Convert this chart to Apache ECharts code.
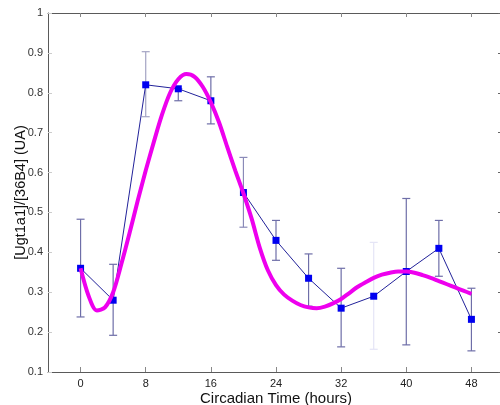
<!DOCTYPE html>
<html>
<head>
<meta charset="utf-8">
<script src="https://cdn.jsdelivr.net/npm/echarts@6/dist/echarts.min.js"></script>
<style>html,body{margin:0;padding:0;background:#fff;}#c{width:500px;height:405px;}</style>
</head>
<body>
<div id="c"></div>
<script>
// Measured data (hours, value)
const hours = [0, 4, 8, 12, 16, 20, 24, 28, 32, 36, 40, 44, 48];
const values = [0.36, 0.28, 0.82, 0.81, 0.78, 0.55, 0.43, 0.335, 0.26, 0.29, 0.352, 0.41, 0.232];
const errLow = [0.238, 0.192, 0.74, 0.78, 0.722, 0.463, 0.38, 0.265, 0.163, 0.157, 0.168, 0.34, 0.153];
const errHigh = [0.483, 0.37, 0.903, 0.81, 0.84, 0.638, 0.48, 0.396, 0.36, 0.425, 0.535, 0.48, 0.31];
const errColors = ['#6e6ea8', '#6e6ea8', '#a4a4c4', '#6e6ea8', '#6e6ea8', '#8a8ab8', '#6e6ea8', '#6e6ea8', '#6e6ea8', '#e4e4f6', '#6e6ea8', '#6e6ea8', '#6e6ea8'];
// Fitted curve
const fitHours = [0,1,2,3,4,5,6,7,8,9,10,11,12,13,14,15,16,17,18,19,20,21,22,23,24,25,26,27,28,29,30,31,32,33,34,35,36,37,38,39,40,41,42,43,44,45,46,47,48];
const fitValues = [0.36,0.29,0.254,0.262,0.30,0.37,0.447,0.528,0.605,0.677,0.745,0.80,0.834,0.847,0.840,0.815,0.776,0.726,0.665,0.605,0.548,0.485,0.412,0.355,0.318,0.294,0.279,0.268,0.262,0.26,0.264,0.272,0.283,0.298,0.313,0.325,0.336,0.344,0.349,0.352,0.352,0.349,0.343,0.336,0.328,0.32,0.312,0.304,0.296];
const xTicks = [0, 8, 16, 24, 32, 40, 48];

const chart = echarts.init(document.getElementById('c'), null, {renderer: 'canvas'});
const font = 'Arial, "Liberation Sans", sans-serif';
const frame = '#5a5a5a';
chart.setOption({
  animation: false,
  backgroundColor: '#fff',
  grid: {left: 48, right: -4, top: 13, bottom: 33, containLabel: false, outerBoundsMode: 'none'},
  xAxis: [{
    type: 'value', min: -4, max: 52, position: 'bottom',
    name: 'Circadian Time (hours)', nameLocation: 'middle', nameGap: 19, nameMoveOverlap: false,
    nameTextStyle: {fontFamily: font, fontSize: 15, color: '#111', verticalAlign: 'top'},
    axisLine: {show: true, onZero: false, lineStyle: {color: frame, width: 1}},
    axisTick: {show: true, inside: true, length: 5, customValues: xTicks, lineStyle: {color: '#888'}},
    axisLabel: {customValues: xTicks, fontFamily: font, fontSize: 11, color: '#222', margin: 6},
    splitLine: {show: false}
  }, {
    type: 'value', min: -4, max: 52, position: 'top',
    axisLine: {show: true, onZero: false, lineStyle: {color: frame, width: 1}},
    axisTick: {show: true, inside: true, length: 4, customValues: xTicks, lineStyle: {color: '#888'}},
    axisLabel: {show: false},
    splitLine: {show: false}
  }],
  yAxis: [{
    type: 'value', min: 0.1, max: 1, interval: 0.1, position: 'left',
    name: '[Ugt1a1]/[36B4] (UA)', nameLocation: 'middle', nameGap: 20, nameRotate: 90, nameMoveOverlap: false,
    nameTextStyle: {fontFamily: font, fontSize: 14.5, color: '#111'},
    axisLine: {show: true, onZero: false, lineStyle: {color: frame, width: 1}},
    axisTick: {show: true, inside: true, length: 4, lineStyle: {color: '#ccc'}},
    axisLabel: {fontFamily: font, fontSize: 11, color: '#333', margin: 5,
      formatter: v => String(Math.round(v * 10) / 10)},
    splitLine: {show: false}
  }, {
    type: 'value', min: 0.1, max: 1, interval: 0.1, position: 'right',
    axisLine: {show: true, onZero: false, lineStyle: {color: frame, width: 1}},
    axisTick: {show: true, inside: true, length: 6, lineStyle: {color: '#666'}},
    axisLabel: {show: false},
    splitLine: {show: false}
  }],
  series: [{
    type: 'custom',
    xAxisIndex: 0, yAxisIndex: 0,
    data: hours.map((h, i) => [h, errLow[i], errHigh[i], i]),
    renderItem: function (params, api) {
      const x = api.value(0);
      const lo = api.coord([x, api.value(1)]);
      const hi = api.coord([x, api.value(2)]);
      const c = errColors[api.value(3)];
      const w = 4;
      const st = {stroke: c, lineWidth: 1.2};
      return {type: 'group', children: [
        {type: 'line', shape: {x1: lo[0], y1: lo[1], x2: hi[0], y2: hi[1]}, style: st},
        {type: 'line', shape: {x1: lo[0] - w, y1: lo[1], x2: lo[0] + w, y2: lo[1]}, style: st},
        {type: 'line', shape: {x1: hi[0] - w, y1: hi[1], x2: hi[0] + w, y2: hi[1]}, style: st}
      ]};
    },
    z: 1
  }, {
    type: 'line',
    data: hours.map((h, i) => [h, values[i]]),
    symbol: 'rect', symbolSize: 7,
    lineStyle: {color: '#22229a', width: 1},
    itemStyle: {color: '#0000f0'},
    z: 2
  }, {
    type: 'line',
    data: fitHours.map((h, i) => [h, fitValues[i]]),
    smooth: 0.3, showSymbol: false, symbol: 'none',
    lineStyle: {color: '#ee00ee', width: 4},
    z: 3
  }]
});
</script>
</body>
</html>
